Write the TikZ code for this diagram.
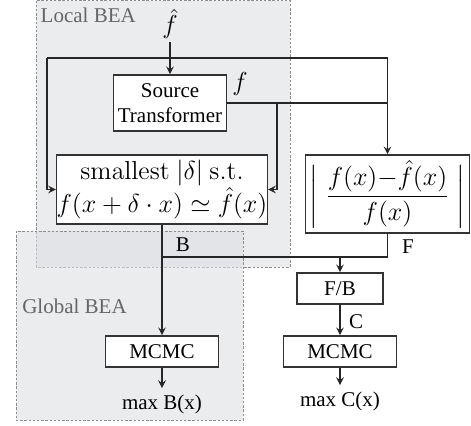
\documentclass[tikz,border=0pt]{standalone}
\usepackage{amsmath,amssymb}
\usepackage{fix-cm}
\usepackage[no-math]{fontspec}
\setmainfont{Liberation Serif}
\usepackage{tikz}
\usetikzlibrary{shapes,positioning}
\tikzset{blk/.style={rectangle,draw=black!80,line width=0.8pt,fill=white,inner sep=0pt,align=center,font=\fontsize{10.5}{12.6}\selectfont}}
\tikzset{mth/.style={inner sep=1pt,align=center,font=\fontsize{13}{15.5}\selectfont}}
\tikzset{lbl/.style={inner sep=1pt,font=\fontsize{10.5}{12.6}\selectfont}}
\tikzset{area/.style={draw=black!45,dash pattern=on 1.2pt off 0.9pt,line width=0.5pt,fill={rgb,255:red,222;green,223;blue,227},fill opacity=0.6}}

\begin{document}
\begin{tikzpicture}[>=stealth,x=0.5pt,y=-0.5pt,line width=0.7pt,draw=black!85]
    \useasboundingbox (0,0) rectangle (471,425);
    \draw [area] (36,0.5) rectangle (290,267);
    \draw [area] (16,231) rectangle (243,420);
    \node[lbl,text=black!60,anchor=west] (local) at (38,15) {Local BEA};
    \node[lbl,text=black!60] (global) at (74.5,306) {Global BEA};

    \node[mth] (fhat) at (170,24) {$\hat{f}$};
    \node[blk,minimum width=56.5pt,minimum height=28pt] (src) at (170,103) {Source\\Transformer};
    \node[blk,minimum width=101.5pt,minimum height=34.5pt,font=\fontsize{13}{15.5}\selectfont] (sm) at (162,189.5) {$\mathrm{smallest}\ |\delta|\ \mathrm{s.t.}$\\$f(x+\delta\cdot x)\simeq\hat{f}(x)$};
    \node[blk,minimum width=82pt,minimum height=39pt,font=\fontsize{13}{15.5}\selectfont] (frac) at (387.5,194) {$\displaystyle\bigg|\;\frac{f(x){-}\hat{f}(x)}{f(x)}\;\bigg|$};
    \node[blk,minimum width=43pt,minimum height=15.5pt] (fb) at (340,288.5) {F/B};
    \node[blk,minimum width=56.5pt,minimum height=15.5pt] (mcL) at (162,351.5) {MCMC};
    \node[blk,minimum width=56.5pt,minimum height=15.5pt] (mcR) at (340,351.5) {MCMC};
    \node[lbl,inner sep=3pt,anchor=north] (maxB) at (162,388) {max B(x)};
    \node[lbl,inner sep=3pt,anchor=north] (maxC) at (340,385) {max C(x)};

    \coordinate (tl) at (47,58);
    \coordinate (tr) at (387.5,58);
    \coordinate (fk) at (277,103);
    \coordinate (fr) at (387.5,103);
    \coordinate (bj) at (162,257);
    \coordinate (cj) at (340,257);
    \coordinate (fj) at (387.5,257);

    \draw [->] (fhat) to [] (src);
    \draw [] (tl) to [] (tr);
    \draw [->] (tl) |- (sm);
    \draw [->] (tr) to [] (frac);
    \draw [] (src) to [] (fr);
    \draw [->] (fk) |- (sm);
    \node[mth] (flab) at (240,84) {$f$};

    \draw [->] (sm) to [] (mcL);
    \draw [] (bj) to [] (fj);
    \draw [] (frac) to [] (fj);
    \draw [->] (cj) to [] (fb);
    \draw [->] (fb) to [] (mcR);
    \draw [->] (mcL) to [] (maxB);
    \draw [->] (mcR) to [] (maxC);
    \node[lbl] (blab) at (183,245) {B};
    \node[lbl] (flab2) at (408,247) {F};
    \node[lbl] (clab) at (356,322) {C};
\end{tikzpicture}
\end{document}
